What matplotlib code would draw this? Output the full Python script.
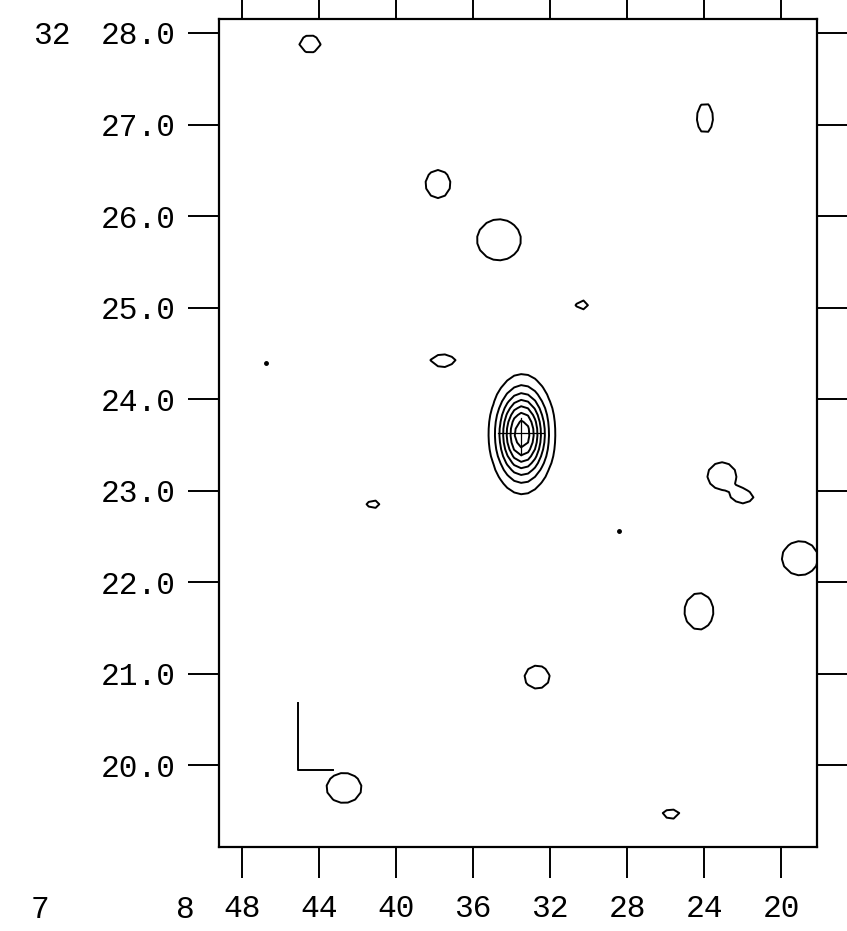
import numpy as np
import matplotlib
matplotlib.use("Agg")
import matplotlib.pyplot as plt
from matplotlib.transforms import blended_transform_factory

# RA seconds (7h 8m ..s) and Dec arcmin (32 deg ..') axes
ra_ticks = [48, 44, 40, 36, 32, 28, 24, 20]
ra_labels = ["48", "44", "40", "36", "32", "28", "24", "20"]
dec_ticks = [28, 27, 26, 25, 24, 23, 22, 21, 20]
dec_labels = ["28.0", "27.0", "26.0", "25.0", "24.0", "23.0", "22.0", "21.0", "20.0"]

# weak sources: one contour each (centre, half sizes in s / arcmin)
src_ra = [44.47, 23.95, 37.82, 34.65, 30.34, 37.56, 41.19, 23.07, 21.95, 19.01, 24.26, 32.67, 42.70, 25.71]
src_dec = [27.88, 27.07, 26.35, 25.74, 25.03, 24.42, 22.85, 23.16, 22.93, 22.26, 21.68, 20.96, 19.75, 19.46]
src_rx = [0.55, 0.42, 0.65, 1.14, 0.32, 0.65, 0.32, 0.75, 0.50, 0.94, 0.75, 0.65, 0.91, 0.45]
src_ry = [0.093, 0.164, 0.153, 0.224, 0.055, 0.071, 0.050, 0.148, 0.070, 0.186, 0.200, 0.126, 0.164, 0.055]

# central source (7 contour levels)
core_ra, core_dec = 33.45, 23.617
core_peak = 7.8
core_sx, core_sy = 0.847, 0.323
levels = [1, 2, 3, 4, 5, 6, 7]

# isolated dots
dot_ra = [46.75, 28.42]
dot_dec = [24.39, 22.56]

# beam marker and optical position cross
beam_ra = [45.09, 45.09, 43.27]
beam_dec = [20.68, 19.945, 19.945]
cross_h_ra = [34.70, 32.31]
cross_h_dec = [23.63, 23.63]
cross_v_ra = [33.51, 33.51]
cross_v_dec = [23.79, 23.39]

plt.rcParams['font.family'] = ['Liberation Mono', 'DejaVu Sans Mono']

fig = plt.figure(figsize=(8.47, 9.31), dpi=100)
ax = fig.add_axes([219 / 847, 84 / 931, 598 / 847, 828 / 931])

# model map on a coarse grid (gives the angular plotter look)
gx = np.arange(17.3, 50.0, 0.36)
gy = np.arange(18.8, 28.5, 0.075)
X, Y = np.meshgrid(gx, gy)
Z = core_peak * np.exp(-0.5 * (((X - core_ra) / core_sx) ** 2 + ((Y - core_dec) / core_sy) ** 2))
weak_peak = 1.8
k = np.sqrt(2 * np.log(weak_peak))
for r, d, rx, ry in zip(src_ra, src_dec, src_rx, src_ry):
    Z += weak_peak * np.exp(-0.5 * (((X - r) / (rx / k)) ** 2 + ((Y - d) / (ry / k)) ** 2))

ax.contour(X, Y, Z, levels=levels, colors='black', linewidths=1.4)
ax.plot(dot_ra, dot_dec, 'o', color='black', ms=2.5)
ax.plot(beam_ra, beam_dec, color='black', lw=1.4)
ax.plot(cross_h_ra, cross_h_dec, color='black', lw=0.9)
ax.plot(cross_v_ra, cross_v_dec, color='black', lw=0.9)

ax.set_xlim(49.195, 18.13)
ax.set_ylim(19.104, 28.153)

ax.set_xticks(ra_ticks)
ax.set_xticklabels(ra_labels)
ax.set_yticks(dec_ticks)
ax.set_yticklabels(dec_labels)
ax.tick_params(direction='out', length=22, width=1.4, labelsize=22.5,
               top=True, right=True, pad=9)
ax.tick_params(axis='x', pad=12)
for s in ax.spines.values():
    s.set_linewidth(1.6)

# leading parts of the sexagesimal labels
trans = blended_transform_factory(fig.transFigure, ax.transData)
ax.text(52 / 847, dec_ticks[0], "32", fontsize=22.5, ha='center',
        va='center_baseline', transform=trans)
fig.text(40 / 847, 21 / 931, "7", fontsize=22.5, ha='center', va='center')
fig.text(185 / 847, 21 / 931, "8", fontsize=22.5, ha='center', va='center')

fig.savefig("out.png", dpi=100)
